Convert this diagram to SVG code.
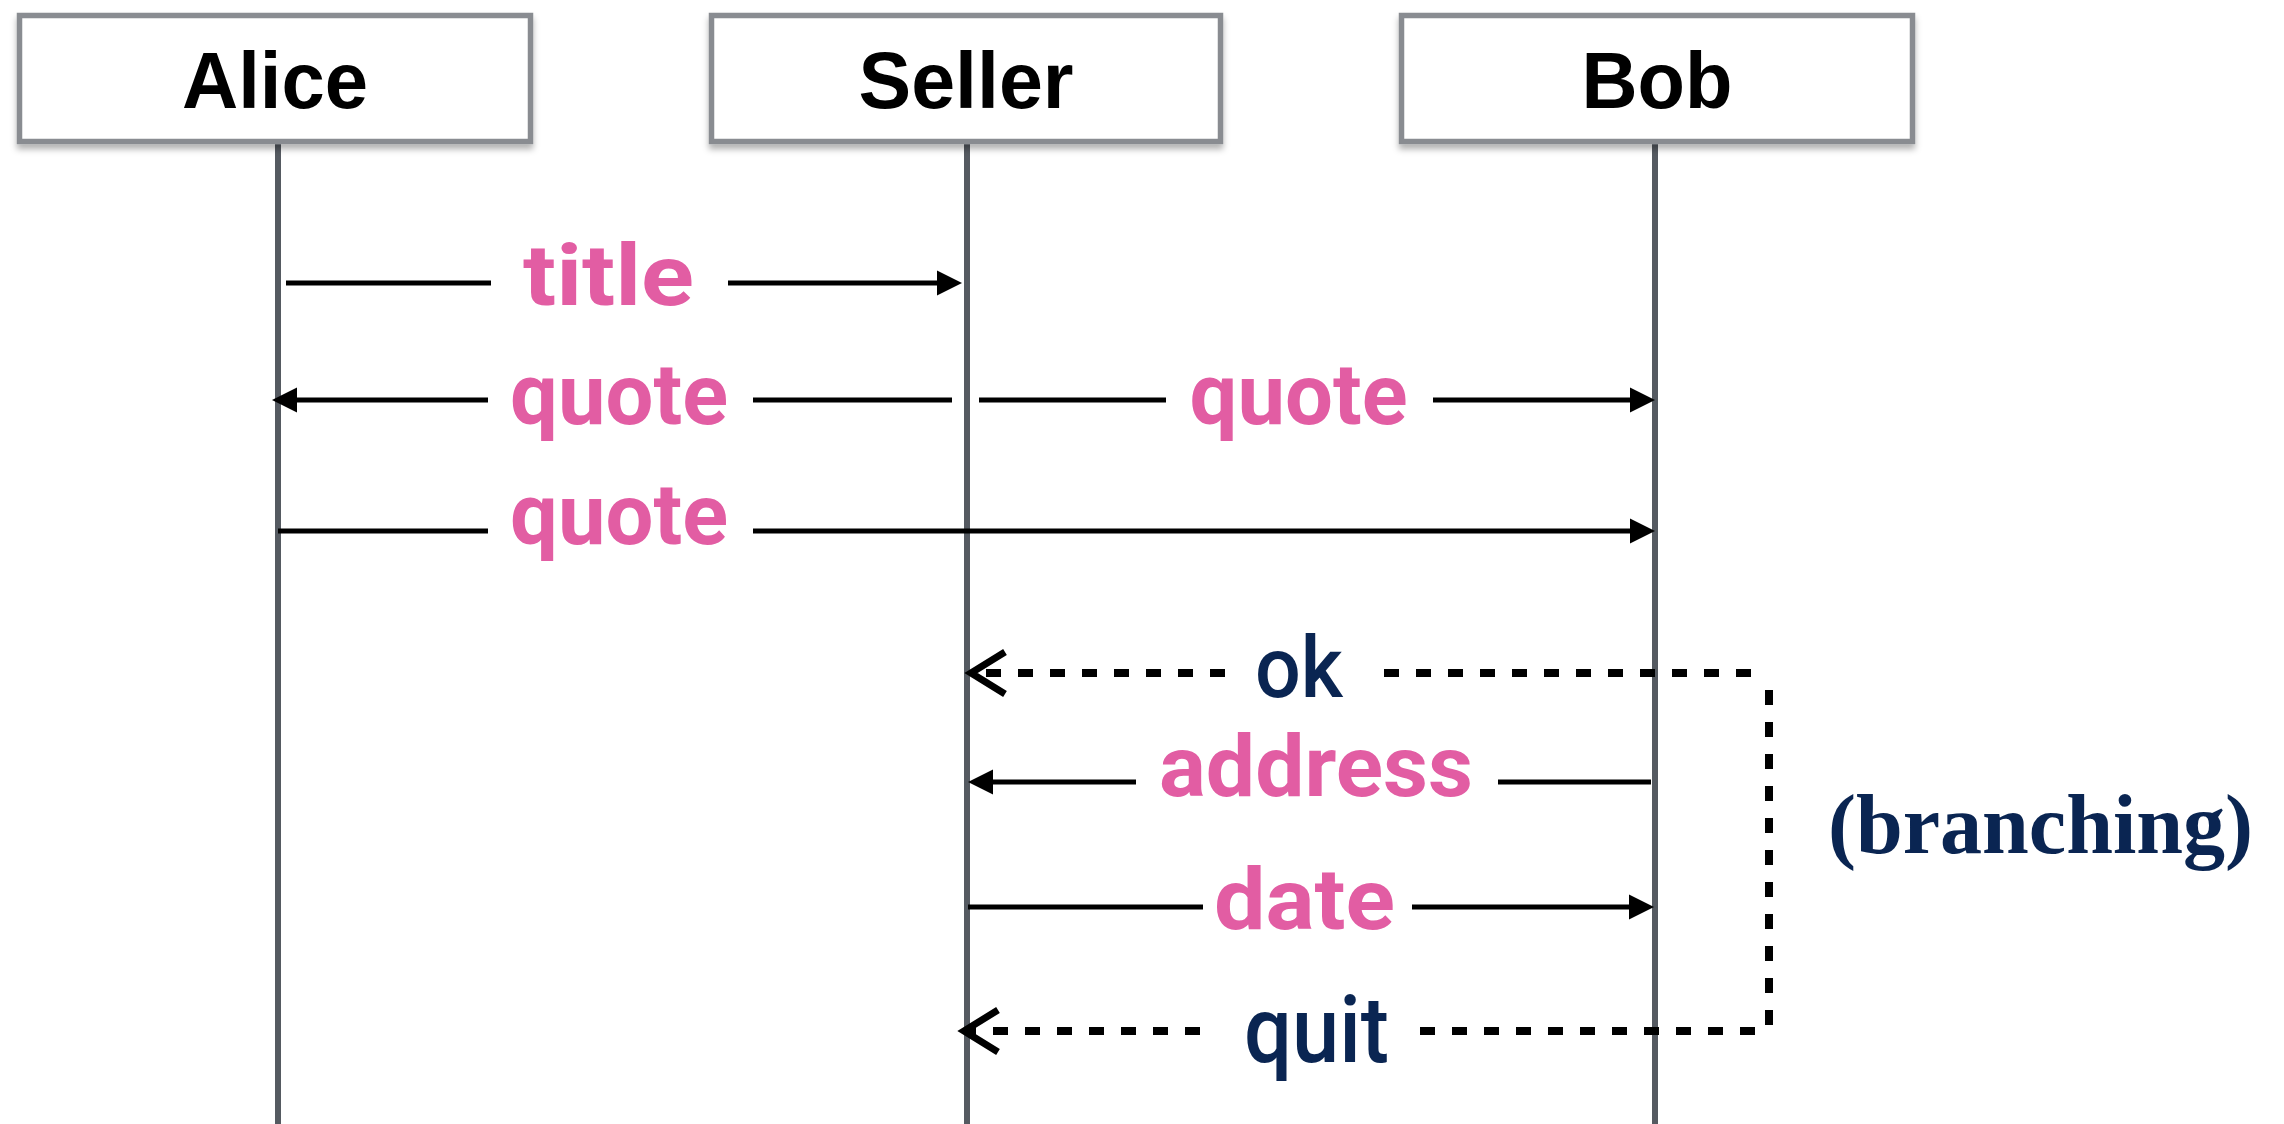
<svg xmlns="http://www.w3.org/2000/svg" width="2284" height="1124" viewBox="0 0 2284 1124">
  <defs>
    <filter id="shadow" x="-5%" y="-10%" width="110%" height="130%">
      <feDropShadow dx="0" dy="5" stdDeviation="3" flood-color="#000" flood-opacity="0.3"/>
    </filter>
    <style>
      .box { fill: #ffffff; stroke: #898c91; stroke-width: 5.5; }
      .life { stroke: #555a61; stroke-width: 6; fill: none; }
      .actor { font-family: "Liberation Sans", Arial, sans-serif; font-weight: bold; font-size: 80px; fill: #000; text-anchor: middle; }
      .msg { stroke: #000; stroke-width: 5; fill: none; }
      .dash { stroke: #000; stroke-width: 8; fill: none; stroke-dasharray: 15 17; }
      .chev { stroke: #000; stroke-width: 7; fill: none; stroke-linejoin: miter; }
      .head { fill: #000; }
      .pink { font-family: Roboto, "Noto Sans", sans-serif; font-weight: bold; font-size: 85px; fill: #e25da3; text-anchor: middle; }
      .navy { font-family: Roboto, "Noto Sans", sans-serif; font-weight: 500; font-size: 86px; fill: #0a2552; text-anchor: middle; }
      .note { font-family: "Liberation Serif", "Times New Roman", serif; font-weight: bold; font-size: 84px; fill: #0a2552; }
    </style>
  </defs>

  <g id="lifelines">
    <line class="life" x1="278" y1="144" x2="278" y2="1124"/>
    <line class="life" x1="967" y1="144" x2="967" y2="1124"/>
    <line class="life" x1="1655" y1="144" x2="1655" y2="1124"/>
  </g>

  <g id="alice">
    <rect class="box" x="19.5" y="15.5" width="511" height="126" filter="url(#shadow)"/>
    <text class="actor" x="275" y="108" textLength="186" lengthAdjust="spacingAndGlyphs">Alice</text>
  </g>
  <g id="seller">
    <rect class="box" x="711.5" y="15.5" width="509" height="126" filter="url(#shadow)"/>
    <text class="actor" x="966" y="108" textLength="215" lengthAdjust="spacingAndGlyphs">Seller</text>
  </g>
  <g id="bob">
    <rect class="box" x="1401.5" y="15.5" width="511" height="126" filter="url(#shadow)"/>
    <text class="actor" x="1657" y="108" textLength="151" lengthAdjust="spacingAndGlyphs">Bob</text>
  </g>

  <g id="connectors">
    <!-- title: Alice -> Seller -->
    <line class="msg" x1="286" y1="283" x2="491" y2="283"/>
    <line class="msg" x1="728" y1="283" x2="940" y2="283"/>
    <polygon class="head" points="962,283 937,270.5 937,295.5"/>

    <!-- quote: Seller -> Alice -->
    <line class="msg" x1="952" y1="400" x2="753" y2="400"/>
    <line class="msg" x1="488" y1="400" x2="293" y2="400"/>
    <polygon class="head" points="272,400 297,387.5 297,412.5"/>

    <!-- quote: Seller -> Bob -->
    <line class="msg" x1="979" y1="400" x2="1166" y2="400"/>
    <line class="msg" x1="1433" y1="400" x2="1633" y2="400"/>
    <polygon class="head" points="1655,400 1630,387.5 1630,412.5"/>

    <!-- quote: Alice -> Bob -->
    <line class="msg" x1="278" y1="531" x2="488" y2="531"/>
    <line class="msg" x1="753" y1="531" x2="1633" y2="531"/>
    <polygon class="head" points="1655,531 1630,518.5 1630,543.5"/>

    <!-- ok: dashed Bob -> Seller -->
    <line class="dash" x1="1384" y1="673" x2="1767" y2="673"/>
    <line class="dash" x1="1225" y1="673" x2="974" y2="673"/>
    <polyline class="chev" points="1005,652 971,673 1005,694"/>

    <!-- branching vertical -->
    <line class="dash" x1="1769" y1="673" x2="1769" y2="1031" style="stroke-dashoffset: 15"/>

    <!-- address: Bob -> Seller -->
    <line class="msg" x1="1651" y1="782" x2="1498" y2="782"/>
    <line class="msg" x1="1136" y1="782" x2="988" y2="782"/>
    <polygon class="head" points="968,782 993,769.5 993,794.5"/>

    <!-- date: Seller -> Bob -->
    <line class="msg" x1="968" y1="907" x2="1203" y2="907"/>
    <line class="msg" x1="1412" y1="907" x2="1633" y2="907"/>
    <polygon class="head" points="1654,907 1629,894.5 1629,919.5"/>

    <!-- quit: dashed -> Seller -->
    <line class="dash" x1="1420" y1="1031" x2="1767" y2="1031"/>
    <line class="dash" x1="1200" y1="1031" x2="967" y2="1031"/>
    <polyline class="chev" points="998,1010 964,1031 998,1052"/>
  </g>

  <g id="labels">
    <text class="pink" x="608.5" y="305" textLength="171" lengthAdjust="spacingAndGlyphs">title</text>
    <text class="pink" x="619" y="424" textLength="218" lengthAdjust="spacingAndGlyphs">quote</text>
    <text class="pink" x="1298.5" y="424" textLength="218" lengthAdjust="spacingAndGlyphs">quote</text>
    <text class="pink" x="619" y="544" textLength="218" lengthAdjust="spacingAndGlyphs">quote</text>
    <text class="navy" x="1299" y="697" textLength="88" lengthAdjust="spacingAndGlyphs">ok</text>
    <text class="pink" x="1316" y="796" textLength="314" lengthAdjust="spacingAndGlyphs">address</text>
    <text class="pink" x="1304.5" y="929" textLength="181" lengthAdjust="spacingAndGlyphs">date</text>
    <text class="navy" x="1316.5" y="1062" style="font-size:92px" textLength="145" lengthAdjust="spacingAndGlyphs">quit</text>
    <text id="branching" class="note" x="1828" y="853" textLength="425" lengthAdjust="spacingAndGlyphs">(branching)</text>
  </g>
</svg>
